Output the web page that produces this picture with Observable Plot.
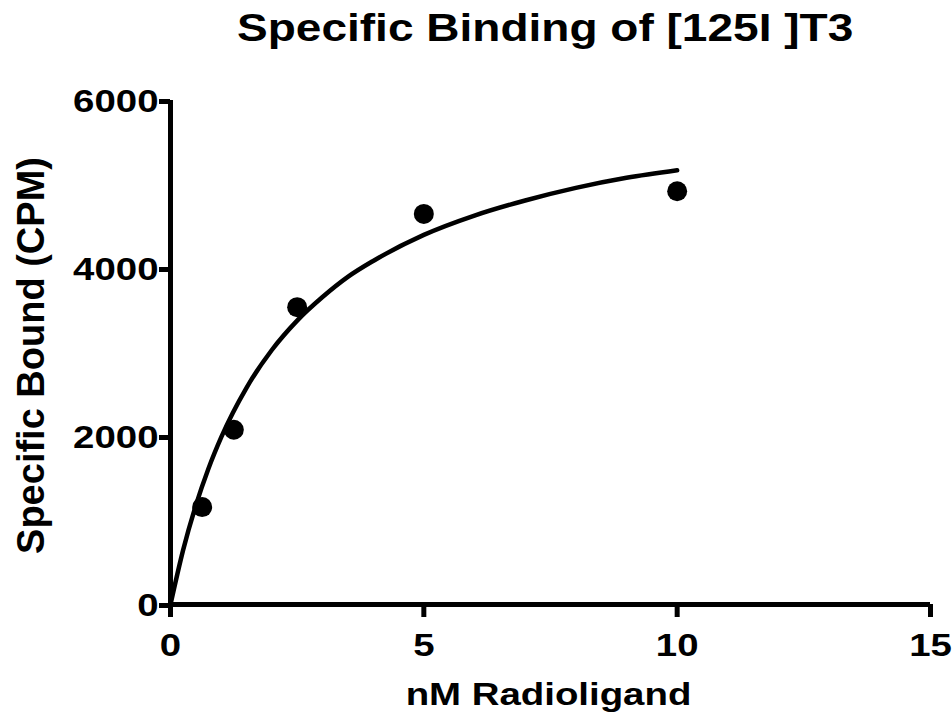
<!DOCTYPE html>
<html>
<head>
<meta charset="utf-8">
<script src="https://cdn.jsdelivr.net/npm/d3@7"></script>
<script src="https://cdn.jsdelivr.net/npm/@observablehq/plot@0.6"></script>
<style>
  html, body { margin: 0; padding: 0; background: #fff; }
  #wrap { width: 952px; height: 713px; position: relative; font-family: "Liberation Sans", Arial, sans-serif; overflow: hidden; }
  #chart { position: absolute; left: 0; top: 0; }
  #title { position: absolute; left: 145px; width: 800px; top: 8px; text-align: center; font-size: 39px; font-weight: bold; color: #000; line-height: 39px; white-space: nowrap; z-index: 2; }
  #title span { display: inline-block; transform: scaleX(1.18); transform-origin: 50% 50%; }
</style>
</head>
<body>
<div id="wrap">
  <div id="chart"></div>
  <div id="title"><span>Specific Binding of [125I ]T3</span></div>
</div>
<script>
// Measured points (nM radioligand vs specific bound CPM)
const concentrations = [0.625, 1.25, 2.5, 5, 10];
const boundCPM = [1160, 2080, 3540, 4650, 4920];

// Fitted curve
const curveX = [0, 0.25, 0.5, 0.75, 1, 1.5, 2, 2.5, 3, 3.5, 4, 5, 6, 7, 8, 9, 10];
const curveY = [0, 650, 1180, 1620, 1990, 2580, 3030, 3380, 3660, 3900, 4090, 4400, 4630, 4810, 4960, 5080, 5170];

const xTicks = [0, 5, 10, 15];
const yTicks = [0, 2000, 4000, 6000];
const xTitle = "nM Radioligand";
const yTitle = "Specific Bound (CPM)";

const points = concentrations.map((x, i) => ({x, y: boundCPM[i]}));
const curve = curveX.map((x, i) => ({x, y: curveY[i]}));

const chart = Plot.plot({
  width: 952,
  height: 713,
  marginLeft: 170,
  marginRight: 22,
  marginTop: 100,
  marginBottom: 109,
  style: {fontFamily: "'Liberation Sans', Arial, sans-serif", fontWeight: "bold", color: "#000", background: "#fff", overflow: "visible"},
  x: {domain: [0, 15]},
  y: {domain: [0, 6000]},
  marks: [
    Plot.axisX({ticks: xTicks, tickFormat: d => String(d), tickSize: 13, strokeWidth: 5, fontSize: 32, fontWeight: "bold", tickPadding: 16, label: null}),
    Plot.axisY({ticks: yTicks, tickFormat: d => String(d), tickSize: 11, strokeWidth: 5, fontSize: 32, fontWeight: "bold", tickPadding: 1, dy: 1, label: null}),
    Plot.ruleY([0], {stroke: "#000", strokeWidth: 5}),
    Plot.ruleX([0], {stroke: "#000", strokeWidth: 5}),
    Plot.line(curve, {x: "x", y: "y", stroke: "#000", strokeWidth: 4.5, curve: "monotone-x"}),
    Plot.dot(points, {x: "x", y: "y", r: 10, fill: "#000", stroke: "none"}),
    Plot.text([xTitle], {frameAnchor: "bottom", lineAnchor: "bottom", dy: 100, dx: -2, fontSize: 32, fontWeight: "bold", fill: "#000"}),
    Plot.text([yTitle], {frameAnchor: "left", textAnchor: "middle", lineAnchor: "middle", rotate: -90, dx: -139, dy: 3, fontSize: 38, fontWeight: "bold", fill: "#000"})
  ]
});

// Widen the horizontal labels to match the reference's stretched lettering
chart.querySelectorAll("text").forEach(t => {
  const tr = t.getAttribute("transform") || "";
  if (tr.includes("rotate")) return;
  if (tr) {
    t.setAttribute("transform", tr + " scale(1.2,1)");
  } else {
    const x = t.getAttribute("x") || 0, y = t.getAttribute("y") || 0;
    t.removeAttribute("x"); t.removeAttribute("y");
    t.setAttribute("transform", `translate(${x},${y}) scale(1.2,1)`);
  }
});
document.getElementById("chart").appendChild(chart);
</script>
</body>
</html>
